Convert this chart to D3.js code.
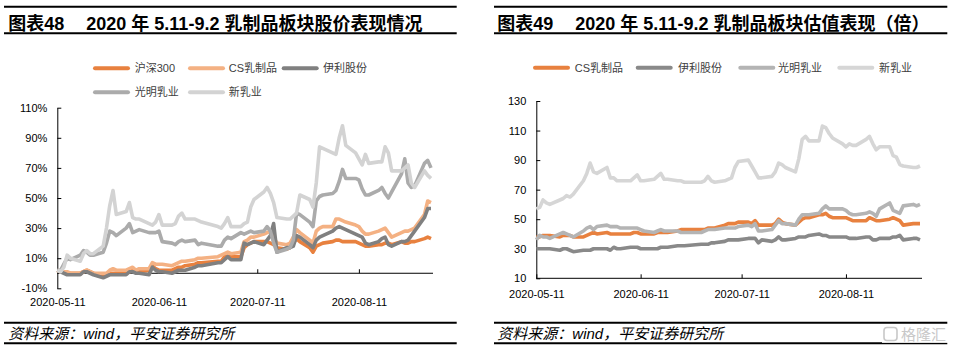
<!DOCTYPE html>
<html>
<head>
<meta charset="utf-8">
<script src="https://cdn.jsdelivr.net/npm/d3@7"></script>
<style>
  body { margin: 0; background: #fff; }
  svg { display: block; font-family: "Liberation Sans", Arial, "Noto Sans CJK SC", sans-serif; }
</style>
</head>
<body>
<div id="chart"></div>
<script>
// trading days 2020-05-11 .. 2020-09-02
const dates = [
  "2020-05-11","2020-05-12","2020-05-13","2020-05-14","2020-05-15","2020-05-18","2020-05-19","2020-05-20","2020-05-21","2020-05-22",
  "2020-05-25","2020-05-26","2020-05-27","2020-05-28","2020-05-29",
  "2020-06-01","2020-06-02","2020-06-03","2020-06-04","2020-06-05","2020-06-08","2020-06-09","2020-06-10","2020-06-11","2020-06-12",
  "2020-06-15","2020-06-16","2020-06-17","2020-06-18","2020-06-19","2020-06-22","2020-06-23","2020-06-24","2020-06-29","2020-06-30",
  "2020-07-01","2020-07-02","2020-07-03","2020-07-06","2020-07-07","2020-07-08","2020-07-09","2020-07-10","2020-07-13","2020-07-14",
  "2020-07-15","2020-07-16","2020-07-17","2020-07-20","2020-07-21","2020-07-22","2020-07-23","2020-07-24","2020-07-27","2020-07-28",
  "2020-07-29","2020-07-30","2020-07-31",
  "2020-08-03","2020-08-04","2020-08-05","2020-08-06","2020-08-07","2020-08-10","2020-08-11","2020-08-12","2020-08-13","2020-08-14",
  "2020-08-17","2020-08-18","2020-08-19","2020-08-20","2020-08-21","2020-08-24","2020-08-25","2020-08-26","2020-08-27","2020-08-28",
  "2020-08-31","2020-09-01","2020-09-02"
];
const xTicks = ["2020-05-11", "2020-06-11", "2020-07-11", "2020-08-11"];

// 图表48 股价涨跌幅 (%)
const hs300 = [2,1,1,0,0, 0,1,2,1,0, -2,-1,0,0,0,
  0,1,2,1,1, 2,5,3,2,2, 2,3,4,4,5, 6,7,7, 8,8,
  11,13,11, 11,17,19,20,21, 21,21,20,19,17, 16,17,20,23,21, 17,14,18,19,20,
  21,22,22,21,21, 21,20,19,18,18, 19,19,20,20,19, 21,20,20,21,21, 23,
  24,23];
const csDairyPx = [2,1,1,1,0, 0,1,2,1,0, 0,0,2,3,2,
  2,3,4,2,3, 3,7,6,6,6, 5,6,7,8,8, 9,10,10, 11,12,
  13,14,13, 14,21,22,24,24, 26,27,28,24,20, 19,20,24,29,27, 22,20,28,30,31,
  31,36,36,35,34, 32,31,28,26,26, 28,29,30,27,24, 27,28,28,29,30, 39,
  48,47];
const yiliPx = [2,1,0,-1,-1, -1,1,1,0,-1, -3,-2,-1,-1,-1,
  -1,1,1,0,0, -1,4,2,1,1, 0,1,2,2,2, 4,5,5, 7,7,
  9,11,9, 9,20,19,20,21, 19,22,25,33,14, 17,17,18,25,24, 19,17,22,24,25,
  28,30,31,30,29, 26,25,24,20,19, 21,23,24,19,18, 21,21,22,25,28, 37,
  43,43];
const brightPx = [2,2,6,10,9, 12,15,14,12,12, 14,20,28,27,25,
  30,33,27,28,29, 27,27,27,28,21, 20,19,21,22,21, 22,19,20, 18,18,
  22,24,23, 27,26,27,28,27, 28,31,28,20,14, 16,17,22,40,39, 34,31,48,51,52,
  53,55,61,69,63, 63,62,56,52,52, 55,57,53,50,54, 66,76,60,57,58, 73,
  75,70];
const newHopePx = [2,1,4,12,10, 8,13,15,13,13, 18,30,45,55,39,
  41,47,37,36,36, 33,32,34,39,32, 32,33,38,40,36, 36,35,34, 31,30,
  33,37,31, 31,33,34,44,49, 54,57,53,47,37, 36,36,38,40,52, 49,44,60,84,83,
  80,79,90,98,85, 80,76,72,79,73, 74,74,84,80,68, 68,70,72,60,57, 68,
  65,63];
const yTicksPx = [-10, 10, 30, 50, 70, 90, 110];

// 图表49 估值 (倍)
const csDairyPe = [38,38,39,39,39, 38,39,39,39,38, 38,39,40,41,40,
  41,40,40,40,40, 40,41,41,40,40, 40,41,41,41,41, 42,43,43, 43,43,
  44,44,44, 46,47,47,47,48, 48,47,49,46,46, 46,47,50,48,47, 46,48,50,51,51,
  53,53,54,52,51, 51,51,50,49,49, 49,51,50,49,49, 50,51,50,49,46, 47,
  47,47];
const yiliPe = [30,30,30,30,30, 29,30,30,29,28, 29,29,29,30,30,
  30,29,31,30,30, 31,31,31,30,30, 30,30,31,31,31, 32,32,32, 33,33,
  33,34,34, 35,36,36,36,36, 37,37,37,34,36, 35,36,38,36,36, 37,38,38,38,39,
  40,39,39,38,38, 38,38,37,37,37, 38,38,36,36,37, 37,38,38,39,36, 37,
  37,36];
const brightPe = [36,39,38,38,37, 40,41,40,39,38, 42,44,45,43,45,
  46,45,45,45,44, 44,44,44,43,42, 41,42,43,42,42, 42,41,41, 41,42,
  43,43,43, 44,44,44,44,45, 46,45,47,42,42, 43,46,49,47,47, 46,50,53,53,53,
  54,57,59,57,57, 57,56,54,53,53, 54,55,54,52,57, 61,56,55,54,59, 60,
  59,60];
const newHopePe = [57,58,63,61,60, 63,64,66,65,67, 76,81,88,82,81,
  85,78,78,76,76, 76,78,80,76,76, 77,79,81,77,77, 76,76,75, 75,76,
  79,76,75, 76,77,78,85,89, 90,86,82,78,78, 79,82,88,87,85, 82,91,104,106,103,
  103,113,112,108,105, 101,99,101,100,100, 104,106,101,97,99, 99,93,92,87,86, 85,
  85,86];
const yTicksPe = [10, 30, 50, 70, 90, 110, 130];

const parse = d3.timeParse("%Y-%m-%d");
const fecha = dates.map(parse);

const svg = d3.select("#chart").append("svg")
  .attr("width", 958)
  .attr("height", 354);

// encabezado y pie de cada panel
function marco(x0, x1, tx, num, titulo) {
  const g = svg.append("g");
  [6.7, 33.3, 322.7, 343.3].forEach(y => {
    g.append("line").attr("x1", x0).attr("x2", x1).attr("y1", y).attr("y2", y)
      .attr("stroke", "#000").attr("stroke-width", 2);
  });
  g.append("text").attr("x", tx).attr("y", 29.5)
    .attr("font-size", 18).attr("font-weight", "bold").text(num);
  g.append("text").attr("x", tx + 78).attr("y", 29.5)
    .attr("font-size", 18).attr("font-weight", "bold").text(titulo);
  g.append("text").attr("x", tx).attr("y", 339)
    .attr("font-size", 15).attr("font-style", "italic").text("资料来源：wind，平安证券研究所");
}

function panel(cfg) {
  const x = d3.scaleTime()
    .domain([fecha[0], fecha[fecha.length - 1]])
    .range([cfg.left, cfg.right]);
  const y = d3.scaleLinear().domain(cfg.yDomain).range([cfg.bottom, cfg.top]);

  const g = svg.append("g");

  g.append("g")
    .attr("transform", `translate(${cfg.left},0)`)
    .call(d3.axisLeft(y).tickValues(cfg.yTicks).tickFormat(cfg.fmt)
      .tickSizeInner(-4).tickSizeOuter(0).tickPadding(10))
    .call(a => a.selectAll("text").attr("font-size", 11).attr("fill", "#000").attr("font-family", null));

  g.append("g")
    .attr("transform", `translate(0,${y(cfg.xAt)})`)
    .call(d3.axisBottom(x).tickValues(xTicks.map(parse)).tickFormat(d3.timeFormat("%Y-%m-%d"))
      .tickSizeInner(-4).tickSizeOuter(0).tickPadding(cfg.xPad))
    .call(a => a.selectAll("text").attr("font-size", 11).attr("fill", "#000").attr("font-family", null))
    .call(a => a.select(".domain").attr("d", `M${cfg.left},0H${cfg.right + 2}`));

  const line = d3.line()
    .x((d, i) => x(fecha[i]))
    .y(d => y(d));

  g.selectAll("path.serie")
    .data(cfg.series)
    .join("path")
    .attr("class", "serie")
    .attr("fill", "none")
    .attr("stroke", d => d.color)
    .attr("stroke-width", 3.6)
    .attr("stroke-linejoin", "round")
    .attr("d", d => line(d.values));

  const ley = g.selectAll("g.ley")
    .data(cfg.series)
    .join("g")
    .attr("class", "ley")
    .attr("transform", (d, i) => `translate(${cfg.legend[i][0]},${cfg.legend[i][1]})`);
  ley.append("line")
    .attr("x1", 2).attr("x2", cfg.legendLen - 2)
    .attr("stroke", d => d.color).attr("stroke-width", 4).attr("stroke-linecap", "round");
  ley.append("text")
    .attr("x", (d, i) => cfg.legend[i][2])
    .attr("y", 4)
    .attr("font-size", 11)
    .attr("fill", "#404040")
    .text(d => d.name);
}

marco(4, 456.7, 8.3, "图表48", "2020 年 5.11-9.2 乳制品板块股价表现情况");
marco(494, 947.3, 497.3, "图表49", "2020 年 5.11-9.2 乳制品板块估值表现（倍）");

panel({
  left: 57.3, right: 431, top: 107.7, bottom: 288.3,
  yDomain: [-10, 110], yTicks: yTicksPx, fmt: d => d + "%", xAt: 0, xPad: 24.6,
  legendLen: 37,
  legend: [[93, 68.3, 41.7], [188, 68.3, 40.7], [281.7, 68.3, 41.3], [93, 92.3, 41.7], [188, 92.3, 40.7]],
  series: [
    { name: "沪深300", color: "#E8813F", values: hs300 },
    { name: "CS乳制品", color: "#F4B183", values: csDairyPx },
    { name: "伊利股份", color: "#808080", values: yiliPx },
    { name: "光明乳业", color: "#ABABAB", values: brightPx },
    { name: "新乳业", color: "#D3D3D3", values: newHopePx }
  ]
});

panel({
  left: 536.3, right: 920, top: 101, bottom: 278.3,
  yDomain: [10, 130], yTicks: yTicksPe, fmt: d => d, xAt: 10, xPad: 11.9,
  legendLen: 37,
  legend: [[533, 67.7, 41.7], [635.7, 67.7, 42.3], [738.3, 67.7, 39.7], [837.3, 67.7, 41.7]],
  series: [
    { name: "CS乳制品", color: "#E8813F", values: csDairyPe },
    { name: "伊利股份", color: "#898989", values: yiliPe },
    { name: "光明乳业", color: "#B4B4B4", values: brightPe },
    { name: "新乳业", color: "#D6D6D6", values: newHopePe }
  ]
});

// marca de agua
const wm = svg.append("g").attr("transform", "translate(882,326)");
wm.append("rect").attr("width", 72).attr("height", 17).attr("fill", "#fff").attr("opacity", 0.85);
wm.append("rect").attr("x", 2).attr("y", 1.5).attr("width", 13).attr("height", 13).attr("rx", 3)
  .attr("fill", "none").attr("stroke", "#c8c8c8").attr("stroke-width", 1.6);
wm.append("text").attr("x", 19).attr("y", 13.5).attr("font-size", 15).attr("fill", "#c8c8c8").text("格隆汇");
</script>
</body>
</html>
